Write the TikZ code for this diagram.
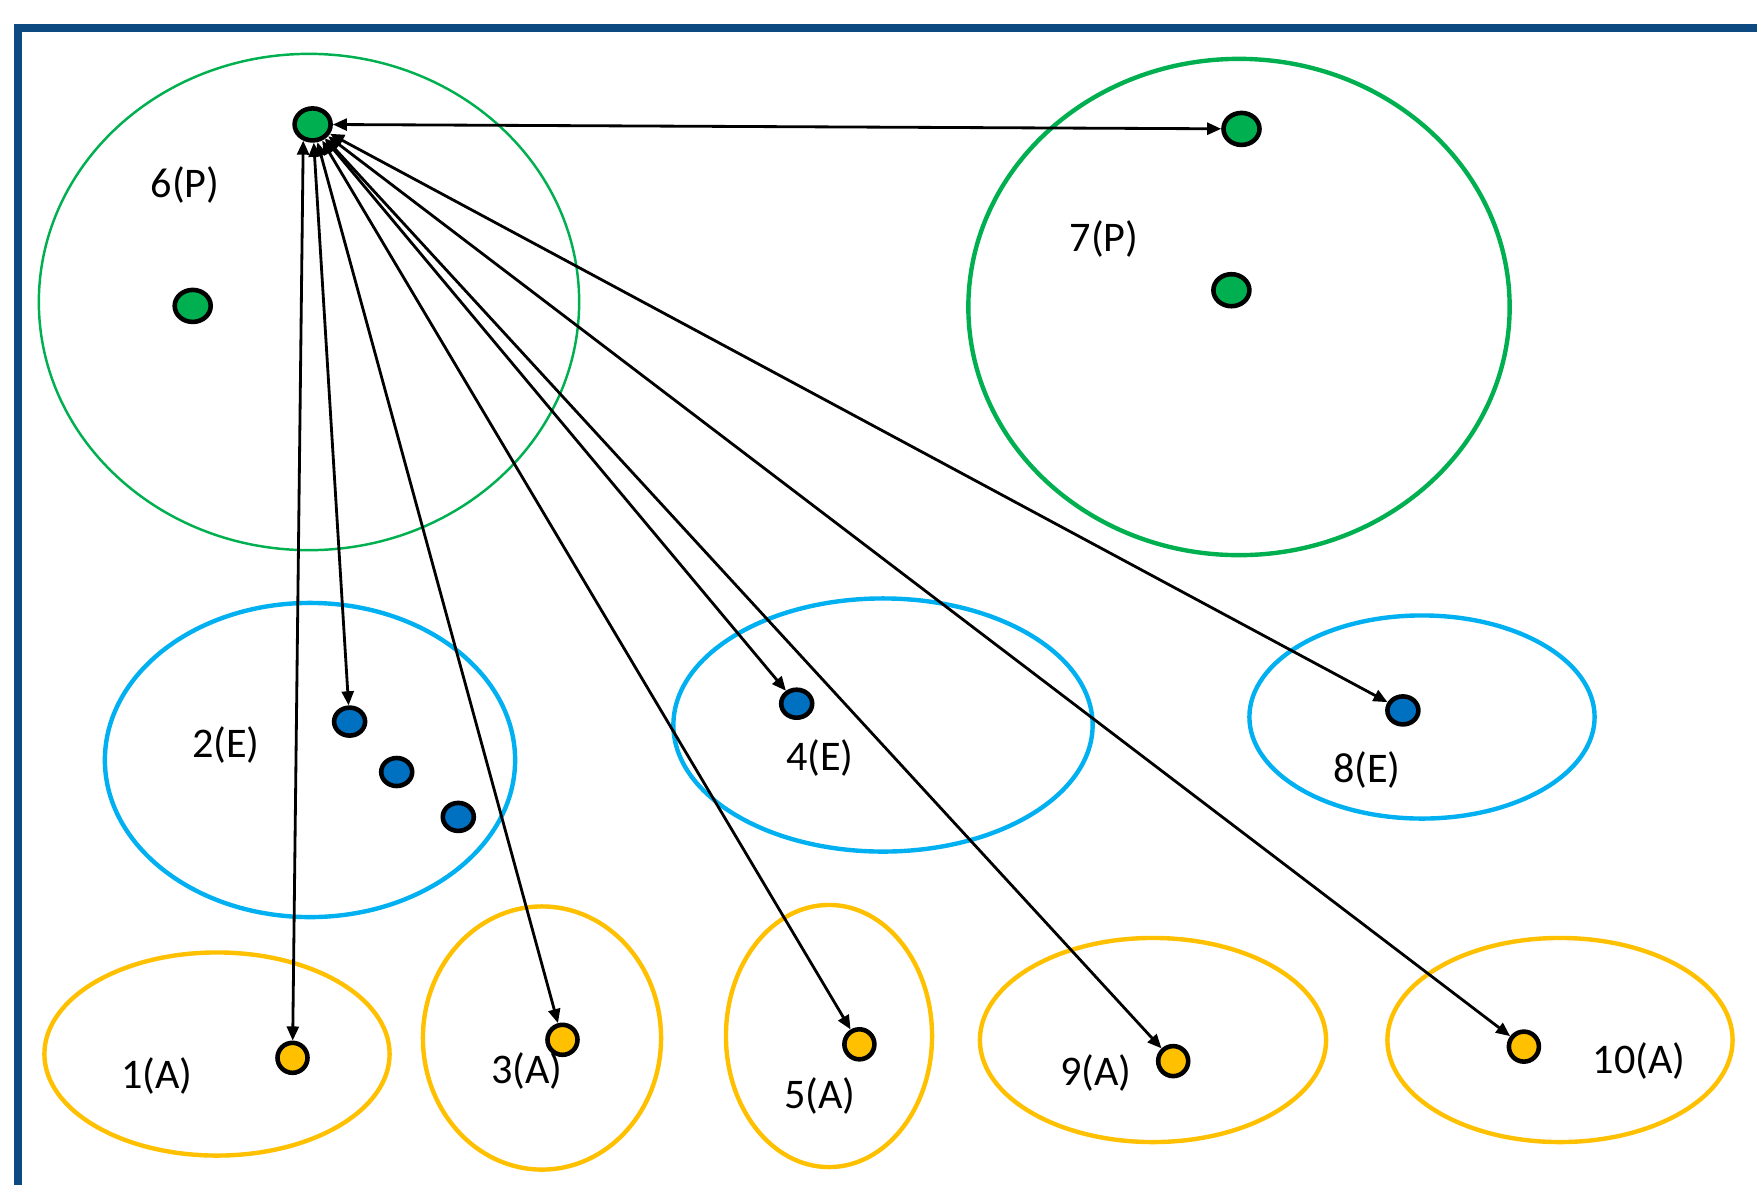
\documentclass[tikz,border=0pt]{standalone}
\usepackage{fontspec}
\setmainfont{Carlito}
\usetikzlibrary{shapes.geometric,arrows.meta}
\definecolor{frameblue}{RGB}{14,74,130}
\definecolor{pgreen}{RGB}{0,176,80}
\definecolor{eblue}{RGB}{0,176,240}
\definecolor{dblue}{RGB}{0,112,192}
\definecolor{ayellow}{RGB}{255,192,0}
\begin{document}
\begin{tikzpicture}[x=0.01cm,y=-0.01cm,
  grp/.style={ellipse, draw, line width=1.25pt, inner sep=0pt},
  dot/.style={ellipse, draw=black, line width=1.3pt, inner sep=0pt},
  gdot/.style={dot, fill=pgreen, minimum width=0.36cm, minimum height=0.32cm},
  bdot/.style={dot, fill=dblue, minimum width=0.31cm, minimum height=0.28cm},
  ydot/.style={dot, fill=ayellow, minimum width=0.30cm, minimum height=0.30cm},
  lbl/.style={font=\fontsize{12pt}{14pt}\selectfont, inner sep=0pt},
  link/.style={{Triangle[length=4pt,width=3.4pt]}-{Triangle[length=4pt,width=3.4pt]}, line width=0.8pt}
]
\useasboundingbox (0,0) rectangle (1757,1184);
\clip (0,0) rectangle (1757,1184);
\fill[white] (0,0) rectangle (1757,1184);
\draw[frameblue, line width=2.2pt] (18,28) rectangle (1900,1300);

% groups
\node[grp, draw=pgreen, line width=0.7pt, minimum width=5.40cm, minimum height=4.96cm] (g6) at (309,302) {};
\node[grp, draw=pgreen, minimum width=5.41cm, minimum height=4.96cm] (g7) at (1239,307) {};
\node[grp, draw=eblue, minimum width=4.10cm, minimum height=3.14cm] (g2) at (310,760) {};
\node[grp, draw=eblue, minimum width=4.19cm, minimum height=2.53cm] (g4) at (883,725) {};
\node[grp, draw=eblue, minimum width=3.45cm, minimum height=2.03cm] (g8) at (1422,717) {};
\node[grp, draw=ayellow, minimum width=3.45cm, minimum height=2.03cm] (g1) at (217,1054) {};
\node[grp, draw=ayellow, minimum width=2.38cm, minimum height=2.63cm] (g3) at (542,1038) {};
\node[grp, draw=ayellow, minimum width=2.06cm, minimum height=2.62cm] (g5) at (829,1036) {};
\node[grp, draw=ayellow, minimum width=3.46cm, minimum height=2.04cm] (g9) at (1153,1040) {};
\node[grp, draw=ayellow, minimum width=3.45cm, minimum height=2.04cm] (g10) at (1560,1040) {};

% labels
\node[lbl] (l6) at (185,185) {6(P)};
\node[lbl] (l7) at (1104,239) {7(P)};
\node[lbl] (l2) at (226,745) {2(E)};
\node[lbl] (l4) at (820,758) {4(E)};
\node[lbl] (l8) at (1367,770) {8(E)};
\node[lbl] (l1) at (157,1076) {1(A)};
\node[lbl] (l3) at (527,1071) {3(A)};
\node[lbl] (l5) at (820,1096) {5(A)};
\node[lbl] (l9) at (1096,1073) {9(A)};
\node[lbl] (l10) at (1639,1061) {10(A)};

% dots
\node[gdot] (d6a) at (312.6,124.4) {};
\node[gdot] (d6b) at (192.7,305.9) {};
\node[gdot] (d7a) at (1241.5,128.9) {};
\node[gdot] (d7b) at (1231.4,290.2) {};
\node[bdot] (d2a) at (349.6,721.6) {};
\node[bdot] (d2b) at (396.7,772) {};
\node[bdot] (d2c) at (458.3,816.9) {};
\node[bdot] (d4) at (796.7,703.7) {};
\node[bdot] (d8) at (1402.9,710.4) {};
\node[ydot] (d1) at (292.5,1057.8) {};
\node[ydot] (d3) at (562.5,1039.8) {};
\node[ydot] (d5) at (859.4,1044.3) {};
\node[ydot] (d9) at (1173.2,1061.1) {};
\node[ydot] (d10) at (1523.9,1046.6) {};

% connectors
\draw[link] (d6a) -- (d7a);
\draw[link] (d6a.240) -- (d1);
\draw[link] (d6a) -- (d2a);
\draw[link] (d6a) -- (d3);
\draw[link] (d6a) -- (d5);
\draw[link] (d6a) -- (d4);
\draw[link] (d6a) -- (d9);
\draw[link] (d6a) -- (d10);
\draw[link] (d6a) -- (d8);
\end{tikzpicture}
\end{document}
